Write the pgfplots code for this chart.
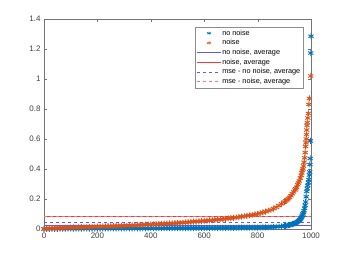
\documentclass[border=0pt]{standalone}
\usepackage{pgfplots}
\pgfplotsset{compat=1.18}
\usepackage{fontspec}
\setmainfont{Liberation Sans}
\definecolor{mblue}{rgb}{0,0.447,0.741}
\definecolor{morange}{rgb}{0.85,0.325,0.098}
\definecolor{lblue}{rgb}{0.35,0.35,1}
\definecolor{lred}{rgb}{1,0.2,0.2}
\definecolor{pred}{rgb}{1,0.45,0.45}
\begin{document}
\begin{tikzpicture}
\begin{axis}[
  scale only axis, width=267bp, height=210bp,
  xmin=0, xmax=1000, ymin=0, ymax=1.4,
  xtick={0,200,...,1000}, ytick={0,0.2,...,1.4},
  /pgf/number format/1000 sep={},
  /pgf/number format/assume math mode=true,
  tick label style={font=\fontsize{8}{9}\selectfont, text=black!75},
  axis line style={black!55},
  major tick style={black!55},
  major tick length=2.7bp,
  tick align=inside,
  legend cell align=left,
  legend style={at={(1,1)}, anchor=north east, xshift=-8bp, yshift=-8bp,
    font=\fontsize{7.3}{8}\selectfont, draw=black!45, inner sep=1.5bp,
    nodes={inner sep=1bp, text height=5.4bp, text depth=1.7bp}, row sep=0.6bp},
  legend image post style={xscale=1.4},
]
\addplot[only marks, mark=asterisk, mark size=3bp, color=mblue, line width=0.9pt,
  legend image post style={mark size=1.7bp, line width=0.5pt}] coordinates {
(0,0.0003)(10,0.0008)(20,0.0011)(30,0.0013)(40,0.0015)(50,0.0016)(60,0.0017)(70,0.0018)(80,0.0019)(90,0.002)
(100,0.0021)(110,0.0022)(120,0.0023)(130,0.0024)(140,0.0025)(150,0.0026)(160,0.0027)(170,0.0028)(180,0.0029)(190,0.003)
(200,0.0031)(210,0.0032)(220,0.0033)(230,0.0034)(240,0.0035)(250,0.0036)(260,0.0037)(270,0.0038)(280,0.0039)(290,0.004)
(300,0.0041)(310,0.0042)(320,0.0043)(330,0.0044)(340,0.0045)(350,0.0046)(360,0.0047)(370,0.0048)(380,0.0049)(390,0.005)
(400,0.0051)(410,0.0052)(420,0.0053)(430,0.0054)(440,0.0055)(450,0.0056)(460,0.0057)(470,0.0058)(480,0.0059)(490,0.006)
(500,0.0061)(510,0.0062)(520,0.0063)(530,0.0064)(540,0.0065)(550,0.0066)(560,0.0067)(570,0.0068)(580,0.0069)(590,0.007)
(600,0.0071)(610,0.0072)(620,0.0073)(630,0.0074)(640,0.0075)(650,0.0076)(660,0.0077)(670,0.0078)(680,0.0079)(690,0.008)
(700,0.0081)(710,0.0082)(720,0.0083)(730,0.0084)(740,0.0085)(750,0.0086)(760,0.0087)(770,0.0088)(780,0.0089)(790,0.009)
(800,0.0092)(810,0.0095)(820,0.010)(830,0.0107)(840,0.0114)(850,0.012)(860,0.0132)(870,0.0145)(880,0.016)(890,0.018)
(900,0.020)(905,0.0215)(910,0.023)(915,0.025)(920,0.027)(925,0.029)(930,0.032)(935,0.035)(940,0.038)(943,0.041)
(946,0.044)(950,0.048)(953,0.053)(956,0.058)(958,0.062)(960,0.066)(962,0.072)(964,0.078)(966,0.085)(968,0.092)
(970,0.10)(972,0.11)(974,0.122)(976,0.138)(978,0.158)(980,0.18)(982,0.215)(984,0.25)(986,0.27)(988,0.29)
(990,0.31)(992,0.33)(994,0.36)(995,0.38)(996,0.43)(997,0.47)(998,0.587)(999,1.173)(1000,1.285)
};
\addlegendentry{no noise}
\addplot[only marks, mark=asterisk, mark size=3bp, color=morange, line width=0.9pt,
  legend image post style={mark size=1.7bp, line width=0.5pt}] coordinates {
(0,0.000)(10,0.003)(20,0.004)(30,0.005)(40,0.006)(50,0.007)(60,0.0075)(70,0.008)(80,0.0085)(90,0.009)
(100,0.010)(110,0.0106)(120,0.0112)(130,0.0118)(140,0.0124)(150,0.013)(160,0.0136)(170,0.0142)(180,0.0148)(190,0.0154)
(200,0.016)(210,0.0166)(220,0.0172)(230,0.0178)(240,0.0184)(250,0.019)(260,0.0196)(270,0.0202)(280,0.0208)(290,0.0214)
(300,0.022)(310,0.0228)(320,0.0236)(330,0.0244)(340,0.0252)(350,0.026)(360,0.0268)(370,0.0276)(380,0.0284)(390,0.0292)
(400,0.030)(410,0.031)(420,0.032)(430,0.033)(440,0.034)(450,0.035)(460,0.036)(470,0.037)(480,0.038)(490,0.039)
(500,0.040)(510,0.0414)(520,0.0428)(530,0.0442)(540,0.0456)(550,0.047)(560,0.0484)(570,0.0498)(580,0.0512)(590,0.0526)
(600,0.054)(610,0.0556)(620,0.0572)(630,0.0588)(640,0.0604)(650,0.062)(660,0.064)(670,0.066)(680,0.068)(690,0.070)
(700,0.072)(710,0.0746)(720,0.0772)(730,0.0798)(740,0.0824)(750,0.085)(760,0.088)(770,0.091)(780,0.094)(790,0.097)
(800,0.100)(810,0.105)(820,0.110)(830,0.116)(840,0.122)(850,0.128)(860,0.136)(870,0.145)(880,0.156)(890,0.168)
(900,0.180)(905,0.187)(910,0.195)(915,0.202)(920,0.210)(925,0.222)(930,0.235)(935,0.247)(940,0.260)(943,0.268)
(946,0.278)(950,0.295)(953,0.307)(956,0.32)(960,0.34)(963,0.358)(966,0.375)(968,0.39)(970,0.40)(972,0.42)
(974,0.445)(976,0.475)(978,0.51)(980,0.55)(981,0.575)(982,0.60)(983,0.63)(984,0.66)(985,0.69)(986,0.71)
(988,0.74)(990,0.77)(992,0.83)(994,0.87)(999,1.02)
};
\addlegendentry{noise}
\addplot[color=lblue, line width=0.6pt] coordinates {(0,0.028)(1000,0.028)};
\addlegendentry{no noise, average}
\addplot[color=lred, line width=0.6pt] coordinates {(0,0.085)(1000,0.085)};
\addlegendentry{noise, average}
\addplot[color=lblue, dashed, line width=0.6pt] coordinates {(0,0.047)(1000,0.047)};
\addlegendentry{mse - no noise, average}
\addplot[color=pred, dashed, line width=0.6pt] coordinates {(0,0.087)(1000,0.087)};
\addlegendentry{mse - noise, average}
\end{axis}
\pgfresetboundingbox
\path[use as bounding box] ([shift={(-44bp,-28bp)}]current axis.south west) rectangle ([shift={(32bp,19bp)}]current axis.north east);
\end{tikzpicture}
\end{document}
